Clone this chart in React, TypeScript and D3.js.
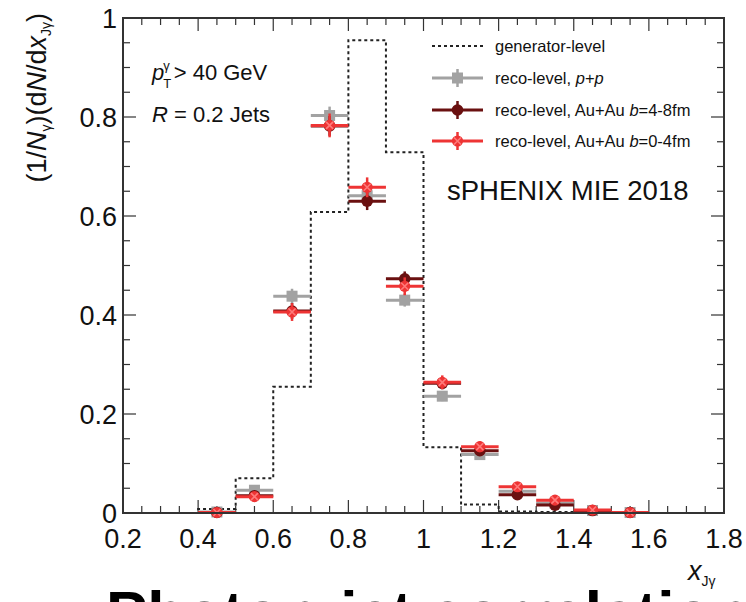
import React from "react";
import * as d3 from "d3";

const W = 746;
const H = 602;

// generator-level histogram: bin edges and contents
const genEdges = [0.2, 0.3, 0.4, 0.5, 0.6, 0.7, 0.8, 0.9, 1.0, 1.1, 1.2, 1.3, 1.4, 1.5, 1.6, 1.7, 1.8];
const genValues = [0, 0, 0.008, 0.07, 0.255, 0.608, 0.955, 0.729, 0.133, 0.017, 0.003, 0.002, 0, 0, 0, 0];

// reco-level points (bin centers)
const binCenters = [0.45, 0.55, 0.65, 0.75, 0.85, 0.95, 1.05, 1.15, 1.25, 1.35, 1.45, 1.55];
const binHalfWidth = 0.05;
const ppValues = [0.002, 0.046, 0.438, 0.803, 0.641, 0.43, 0.236, 0.118, 0.044, 0.02, 0.005, 0.001];
const ppErrors = [0.003, 0.008, 0.015, 0.018, 0.016, 0.013, 0.01, 0.008, 0.006, 0.004, 0.003, 0.002];
const auau48Values = [0.001, 0.035, 0.408, 0.782, 0.63, 0.473, 0.262, 0.126, 0.037, 0.016, 0.005, 0.001];
const auau48Errors = [0.003, 0.008, 0.016, 0.02, 0.018, 0.015, 0.012, 0.009, 0.007, 0.005, 0.003, 0.002];
const auau04Values = [0.001, 0.033, 0.406, 0.783, 0.658, 0.458, 0.264, 0.134, 0.053, 0.026, 0.006, 0.001];
const auau04Errors = [0.003, 0.009, 0.018, 0.024, 0.02, 0.018, 0.014, 0.011, 0.009, 0.006, 0.004, 0.003];

const xTicks = [0.2, 0.4, 0.6, 0.8, 1, 1.2, 1.4, 1.6, 1.8];
const xTickLabels = ["0.2", "0.4", "0.6", "0.8", "1", "1.2", "1.4", "1.6", "1.8"];
const yTicks = [0, 0.2, 0.4, 0.6, 0.8, 1];
const yTickLabels = ["0", "0.2", "0.4", "0.6", "0.8", "1"];

const legendLabels = ["generator-level", "reco-level, ", "reco-level, Au+Au ", "reco-level, Au+Au "];

const COL_PP = "#a2a2a2";
const COL_DARK = "#6a1010";
const COL_RED = "#ee3434";
const FONT = "'Liberation Sans', Arial, Helvetica, sans-serif";

const L = 123, R = 724, T = 18, B = 513;

function Marker({ kind, cx, cy }: { kind: string; cx: number; cy: number }) {
  if (kind === "pp") {
    return <rect x={cx - 5.5} y={cy - 5.5} width={11} height={11} fill={COL_PP} />;
  }
  if (kind === "dark") {
    return <circle cx={cx} cy={cy} r={5.8} fill={COL_DARK} />;
  }
  return (
    <g>
      <circle cx={cx} cy={cy} r={5.6} fill={COL_RED} />
      <path
        d={`M${cx - 3.5},${cy - 3.5}L${cx + 3.5},${cy + 3.5}M${cx - 3.5},${cy + 3.5}L${cx + 3.5},${cy - 3.5}`}
        stroke="#ff7a7a"
        strokeWidth={1.6}
      />
    </g>
  );
}

export default function App() {
  const x = d3.scaleLinear().domain([0.2, 1.8]).range([L, R]);
  const y = d3.scaleLinear().domain([0, 1]).range([B, T]);

  const stepData: [number, number][] = genEdges.map((e, i) => [e, i < genValues.length ? genValues[i] : genValues[genValues.length - 1]]);
  const stepLine = d3
    .line<[number, number]>()
    .x((d) => x(d[0]))
    .y((d) => y(d[1]))
    .curve(d3.curveStepAfter);

  const xMinor = d3.range(0.2, 1.8001, 0.05);
  const yMinor = d3.range(0, 1.0001, 0.05);

  const series = [
    { kind: "pp", color: COL_PP, vals: ppValues, errs: ppErrors },
    { kind: "dark", color: COL_DARK, vals: auau48Values, errs: auau48Errors },
    { kind: "red", color: COL_RED, vals: auau04Values, errs: auau04Errors },
  ];

  const legX0 = 432, legX1 = 483, legTextX = 495;
  const legRows = [46, 78, 110, 141];

  return (
    <svg width={W} height={H} style={{ position: "absolute", left: 0, top: 0, background: "#fff" }} fontFamily={FONT}>
      <rect x={0} y={0} width={W} height={H} fill="#fff" />

      {/* ticks */}
      <g stroke="#333" strokeWidth={1.2}>
        {xMinor.map((v, i) => {
          const major = Math.abs((v - 0.2) / 0.2 - Math.round((v - 0.2) / 0.2)) < 1e-6;
          const len = major ? 13 : 7;
          return (
            <g key={"xm" + i}>
              <line x1={x(v)} x2={x(v)} y1={B} y2={B - len} />
              <line x1={x(v)} x2={x(v)} y1={T} y2={T + len} />
            </g>
          );
        })}
        {yMinor.map((v, i) => {
          const major = Math.abs(v / 0.2 - Math.round(v / 0.2)) < 1e-6;
          const len = major ? 13 : 7;
          return (
            <g key={"ym" + i}>
              <line x1={L} x2={L + len} y1={y(v)} y2={y(v)} />
              <line x1={R} x2={R - len} y1={y(v)} y2={y(v)} />
            </g>
          );
        })}
      </g>

      {/* generator-level dashed histogram */}
      <path d={stepLine(stepData) || ""} fill="none" stroke="#222" strokeWidth={2} strokeDasharray="3,3" />

      {/* reco-level series */}
      {series.map((s) => (
        <g key={s.kind}>
          {binCenters.map((c, i) => (
            <g key={i}>
              <line
                x1={x(c - binHalfWidth)}
                x2={x(c + binHalfWidth)}
                y1={y(s.vals[i])}
                y2={y(s.vals[i])}
                stroke={s.color}
                strokeWidth={3}
              />
              <line
                x1={x(c)}
                x2={x(c)}
                y1={y(s.vals[i] - s.errs[i])}
                y2={y(s.vals[i] + s.errs[i])}
                stroke={s.color}
                strokeWidth={2.5}
              />
              <Marker kind={s.kind} cx={x(c)} cy={y(s.vals[i])} />
            </g>
          ))}
        </g>
      ))}

      {/* frame */}
      <rect x={L} y={T} width={R - L} height={B - T} fill="none" stroke="#333" strokeWidth={2} />

      {/* tick labels */}
      <g fontSize={27} fill="#111">
        {xTicks.map((v, i) => (
          <text key={"xl" + i} x={x(v)} y={548} textAnchor="middle">
            {xTickLabels[i]}
          </text>
        ))}
        {yTicks.map((v, i) => (
          <text key={"yl" + i} x={117} y={y(v) + 9.5} textAnchor="end">
            {yTickLabels[i]}
          </text>
        ))}
      </g>

      {/* y axis title */}
      <text transform={`translate(46,13) rotate(-90)`} textAnchor="end" fontSize={27} fill="#111">
        <tspan>(1/</tspan>
        <tspan fontStyle="italic">N</tspan>
        <tspan fontSize={14} dy={5}>γ</tspan>
        <tspan dy={-5}>)(d</tspan>
        <tspan fontStyle="italic">N</tspan>
        <tspan>/d</tspan>
        <tspan fontStyle="italic">x</tspan>
        <tspan fontSize={14} dy={5}>Jγ</tspan>
        <tspan dy={-5}>)</tspan>
      </text>

      {/* x axis title */}
      <text x={688} y={580} fontSize={27} fill="#111">
        <tspan fontStyle="italic">x</tspan>
        <tspan fontSize={14} dy={6}>Jγ</tspan>
      </text>

      {/* annotations */}
      <text x={152} y={80} fontSize={22} fill="#111">
        <tspan fontStyle="italic">p</tspan>
        <tspan fontSize={13} dy={8} dx={-1}>T</tspan>
        <tspan fontSize={13} dy={-18} dx={-8}>γ</tspan>
        <tspan dy={10} dx={4}>{"> 40 GeV"}</tspan>
      </text>
      <text x={152} y={122} fontSize={22} fill="#111">
        <tspan fontStyle="italic">R</tspan>
        <tspan>{" = 0.2 Jets"}</tspan>
      </text>
      <text x={447} y={200} fontSize={27.5} fill="#111">
        sPHENIX MIE 2018
      </text>

      {/* legend */}
      <g fontSize={16.5} fill="#111">
        <line x1={legX0} x2={legX1} y1={legRows[0]} y2={legRows[0]} stroke="#222" strokeWidth={2} strokeDasharray="3,3" />
        <text x={legTextX} y={legRows[0] + 6}>{legendLabels[0]}</text>
        {series.map((s, k) => {
          const ry = legRows[k + 1];
          const cx = (legX0 + legX1) / 2;
          return (
            <g key={"leg" + k}>
              <line x1={legX0} x2={legX1} y1={ry} y2={ry} stroke={s.color} strokeWidth={3} />
              <line x1={cx} x2={cx} y1={ry - 9} y2={ry + 9} stroke={s.color} strokeWidth={2.5} />
              <Marker kind={s.kind} cx={cx} cy={ry} />
            </g>
          );
        })}
        <text x={legTextX} y={legRows[1] + 6}>
          {legendLabels[1]}
          <tspan fontStyle="italic">p</tspan>+<tspan fontStyle="italic">p</tspan>
        </text>
        <text x={legTextX} y={legRows[2] + 6}>
          {legendLabels[2]}
          <tspan fontStyle="italic">b</tspan>=4-8fm
        </text>
        <text x={legTextX} y={legRows[3] + 6}>
          {legendLabels[3]}
          <tspan fontStyle="italic">b</tspan>=0-4fm
        </text>
      </g>

      {/* cut-off slide title beneath the figure */}
      <text x={106} y={634} fontSize={62} fontWeight="bold" fill="#000">
        Photon-jet correlations
      </text>
    </svg>
  );
}
